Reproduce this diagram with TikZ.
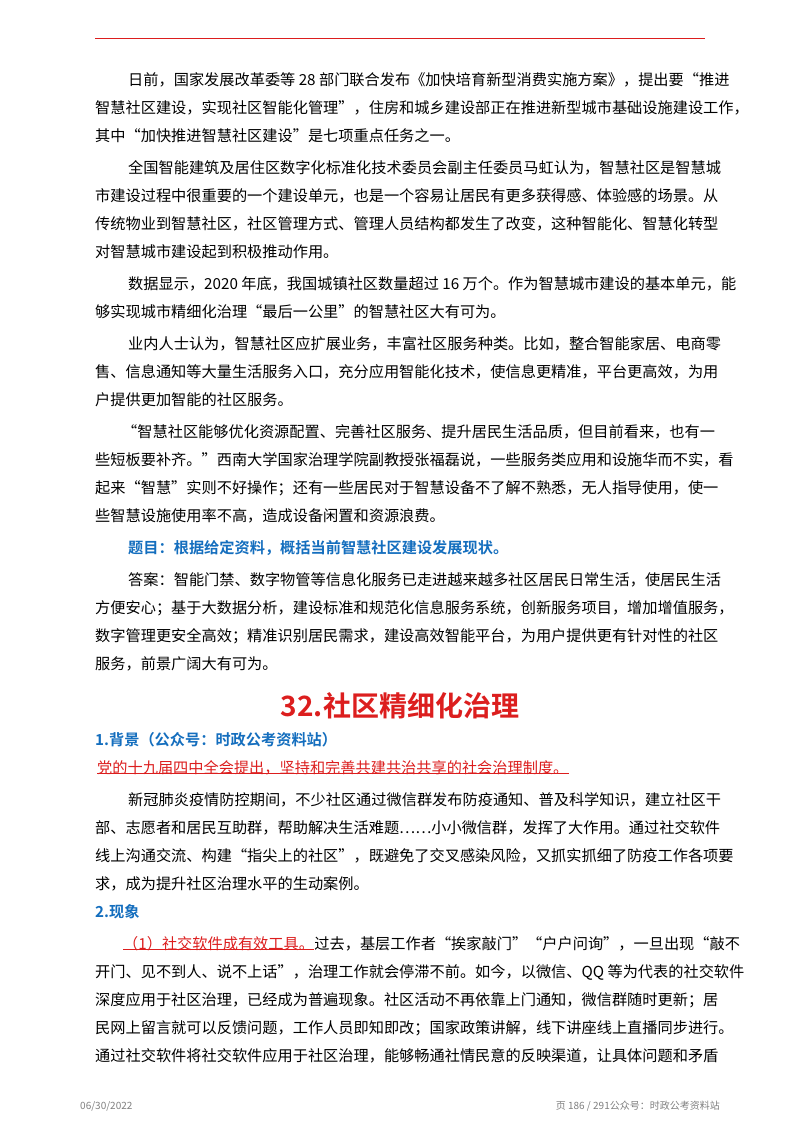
\documentclass[tikz,border=0pt]{standalone}
\usepackage{fontspec}
\newfontfamily\cjk{Noto Sans CJK SC}
\newfontfamily\cjkb{Noto Sans CJK SC Bold}
\definecolor{tred}{RGB}{220,30,30}
\definecolor{tblue}{RGB}{20,110,190}
\begin{document}
\begin{tikzpicture}[x=1pt,y=-1pt,
  ln/.style={anchor=west,inner sep=0pt,font=\cjk\fontsize{15.2}{18}\selectfont},
  hd/.style={ln,text=tblue,font=\cjkb\fontsize{15.2}{18}\selectfont}]
\useasboundingbox (0,0) rectangle (800,1132);
\fill[white] (0,0) rectangle (800,1132);
\draw[tred,line width=0.8pt] (95,38) coordinate (t1) -- (705,38) coordinate (t2);
\node[ln] (l1) at (128,80) {日前，国家发展改革委等 28 部门联合发布《加快培育新型消费实施方案》，提出要“推进};
\node[ln] (l2) at (95,108) {智慧社区建设，实现社区智能化管理”，住房和城乡建设部正在推进新型城市基础设施建设工作，};
\node[ln] (l3) at (95,136) {其中“加快推进智慧社区建设”是七项重点任务之一。};
\node[ln] (l4) at (128,168) {全国智能建筑及居住区数字化标准化技术委员会副主任委员马虹认为，智慧社区是智慧城};
\node[ln] (l5) at (95,196) {市建设过程中很重要的一个建设单元，也是一个容易让居民有更多获得感、体验感的场景。从};
\node[ln] (l6) at (95,224) {传统物业到智慧社区，社区管理方式、管理人员结构都发生了改变，这种智能化、智慧化转型};
\node[ln] (l7) at (95,252) {对智慧城市建设起到积极推动作用。};
\node[ln] (l8) at (128,284) {数据显示，2020 年底，我国城镇社区数量超过 16 万个。作为智慧城市建设的基本单元，能};
\node[ln] (l9) at (95,312) {够实现城市精细化治理“最后一公里”的智慧社区大有可为。};
\node[ln] (l10) at (128,344) {业内人士认为，智慧社区应扩展业务，丰富社区服务种类。比如，整合智能家居、电商零};
\node[ln] (l11) at (95,372) {售、信息通知等大量生活服务入口，充分应用智能化技术，使信息更精准，平台更高效，为用};
\node[ln] (l12) at (95,400) {户提供更加智能的社区服务。};
\node[ln] (l13) at (122,432) {“智慧社区能够优化资源配置、完善社区服务、提升居民生活品质，但目前看来，也有一};
\node[ln] (l14) at (95,460) {些短板要补齐。”西南大学国家治理学院副教授张福磊说，一些服务类应用和设施华而不实，看};
\node[ln] (l15) at (95,488) {起来“智慧”实则不好操作；还有一些居民对于智慧设备不了解不熟悉，无人指导使用，使一};
\node[ln] (l16) at (95,516) {些智慧设施使用率不高，造成设备闲置和资源浪费。};
\node[hd] (l17) at (128,548) {题目：根据给定资料，概括当前智慧社区建设发展现状。};
\node[ln] (l18) at (128,580) {答案：智能门禁、数字物管等信息化服务已走进越来越多社区居民日常生活，使居民生活};
\node[ln] (l19) at (95,608) {方便安心；基于大数据分析，建设标准和规范化信息服务系统，创新服务项目，增加增值服务，};
\node[ln] (l20) at (95,636) {数字管理更安全高效；精准识别居民需求，建设高效智能平台，为用户提供更有针对性的社区};
\node[ln] (l21) at (95,664) {服务，前景广阔大有可为。};
\node[inner sep=0pt,text=tred,font=\cjkb\fontsize{28}{32}\selectfont] (title) at (400,706) {32.社区精细化治理};
\node[hd] (l22) at (95,740) {1.背景（公众号：时政公考资料站）};
\node[ln,text=tred] (l23) at (97,768) {党的十九届四中全会提出，坚持和完善共建共治共享的社会治理制度。};
\draw[tred,line width=0.6pt] ([yshift=2pt]l23.south west) -- ([yshift=2pt]l23.south east);
\node[ln] (l24) at (128,800) {新冠肺炎疫情防控期间，不少社区通过微信群发布防疫通知、普及科学知识，建立社区干};
\node[ln] (l25) at (95,828) {部、志愿者和居民互助群，帮助解决生活难题……小小微信群，发挥了大作用。通过社交软件};
\node[ln] (l26) at (95,856) {线上沟通交流、构建“指尖上的社区”，既避免了交叉感染风险，又抓实抓细了防疫工作各项要};
\node[ln] (l27) at (95,884) {求，成为提升社区治理水平的生动案例。};
\node[hd] (l28) at (95,912) {2.现象};
\node[ln,text=tred] (l29a) at (123,944) {（1）社交软件成有效工具。};
\draw[tred,line width=0.6pt] ([yshift=2pt]l29a.south west) -- ([yshift=2pt]l29a.south east);
\node[ln] (l29b) at (l29a.east) {过去，基层工作者“挨家敲门”“户户问询”，一旦出现“敲不};
\node[ln] (l30) at (95,972) {开门、见不到人、说不上话”，治理工作就会停滞不前。如今，以微信、QQ 等为代表的社交软件};
\node[ln] (l31) at (95,1000) {深度应用于社区治理，已经成为普遍现象。社区活动不再依靠上门通知，微信群随时更新；居};
\node[ln] (l32) at (95,1028) {民网上留言就可以反馈问题，工作人员即知即改；国家政策讲解，线下讲座线上直播同步进行。};
\node[ln] (l33) at (95,1056) {通过社交软件将社交软件应用于社区治理，能够畅通社情民意的反映渠道，让具体问题和矛盾};
\node[anchor=west,inner sep=0pt,text=gray,font=\cjk\fontsize{10}{12}\selectfont] (f1) at (80,1106) {06/30/2022};
\node[anchor=east,inner sep=0pt,text=gray,font=\cjk\fontsize{10}{12}\selectfont] (f2) at (720,1106) {页 186 / 291公众号：时政公考资料站};
\end{tikzpicture}
\end{document}
